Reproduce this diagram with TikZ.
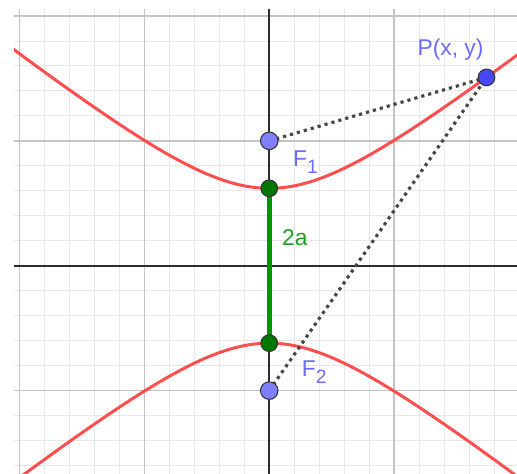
\documentclass[tikz,border=0pt]{standalone}
\usepackage{fontspec}
\setmainfont{Liberation Sans}
\usepackage{tikz}
\usetikzlibrary{positioning,calc}

\definecolor{curvered}{RGB}{255,78,78}
\definecolor{focusblue}{RGB}{128,128,255}
\definecolor{pointblue}{RGB}{72,72,250}
\definecolor{labelblue}{RGB}{108,108,255}
\definecolor{vertgreen}{RGB}{0,120,0}
\definecolor{seggreen}{RGB}{0,150,0}
\definecolor{txtgreen}{RGB}{30,160,30}
\definecolor{majorgray}{RGB}{196,196,196}
\definecolor{minorgray}{RGB}{232,232,232}
\definecolor{axisgray}{RGB}{45,45,45}
\definecolor{dotgray}{RGB}{70,70,70}

\newcommand{\lowsub}[1]{\raisebox{-0.55ex}{\fontsize{11}{12}\selectfont #1}}
\newcommand{\av}{0.62}
\newcommand{\bsq}{0.6156}

\begin{document}
\begin{tikzpicture}[
  x=2.5cm,y=2.5cm,
  font=\fontsize{13}{15}\selectfont,
  %--- background ---
  minorgrid/.style={draw=minorgray,line width=0.5pt},
  majorgrid/.style={draw=majorgray,line width=0.8pt},
  axis/.style     ={draw=axisgray,line width=1.1pt},
  %--- curves and segments ---
  branch/.style   ={draw=curvered,line width=1.7pt},
  dist/.style     ={draw=dotgray,line width=1.8pt,line cap=butt,
                    dash pattern=on 1.8pt off 2.3pt},
  axisseg/.style  ={draw=seggreen,line width=2.8pt},
  %--- points ---
  focus/.style    ={circle,draw=black!80,line width=0.6pt,fill=focusblue,
                    minimum size=10pt,inner sep=0pt},
  movpt/.style    ={circle,draw=black!80,line width=0.6pt,fill=pointblue,
                    minimum size=9.5pt,inner sep=0pt},
  vertex/.style   ={circle,draw=black!80,line width=0.6pt,fill=vertgreen,
                    minimum size=9.5pt,inner sep=0pt},
  %--- labels ---
  ptlabel/.style  ={text=labelblue,inner sep=0pt},
  seglabel/.style ={text=txtgreen,inner sep=0pt},
]
\useasboundingbox (-2.156,-1.664) rectangle (1.984,2.128);

%==================== grid and axes ====================
\draw[minorgrid] (-2.044,-1.664) grid[step=0.2] (1.984,2.056);
\draw[majorgrid] (-2.044,-1.664) grid[step=1] (1.984,2.056);
\draw[axis] (-2.044,0) -- (1.984,0);
\draw[axis] (0,-1.664) -- (0,2.056);

%==================== hyperbola ====================
\begin{scope}
  \clip (-2.044,-1.664) rectangle (1.984,2.056);
  \draw[branch] plot[domain=-2.2:2.1,samples=120,smooth]
    ({\x},{\av*sqrt(1+\x*\x/\bsq)});
  \draw[branch] plot[domain=-2.2:2.1,samples=120,smooth]
    ({\x},{-\av*sqrt(1+\x*\x/\bsq)});
\end{scope}

%==================== key points ====================
\coordinate (F1) at (0,1);
\coordinate (F2) at (0,-1);
\coordinate (V1) at (0,\av);
\coordinate (V2) at (0,-\av);
\coordinate (P)  at (1.74,1.508);

%==================== segments ====================
\draw[axisseg] (V1) -- (V2);
\draw[dist] (F1) -- (P);
\draw[dist] (F2) -- (P);

\node[focus]  (F1dot) at (F1) {};
\node[focus]  (F2dot) at (F2) {};
\node[vertex] (V1dot) at (V1) {};
\node[vertex] (V2dot) at (V2) {};
\node[movpt]  (Pdot)  at (P)  {};

%==================== labels ====================
\node[ptlabel]  (Plab)  at (1.452,1.728) {P(x, y)};
\node[ptlabel]  (F1lab) at (0.29,0.83)   {F\lowsub{1}};
\node[ptlabel]  (F2lab) at (0.36,-0.85)  {F\lowsub{2}};
\node[seglabel] (alab)  at (0.205,0.225) {2a};

\end{tikzpicture}
\end{document}
